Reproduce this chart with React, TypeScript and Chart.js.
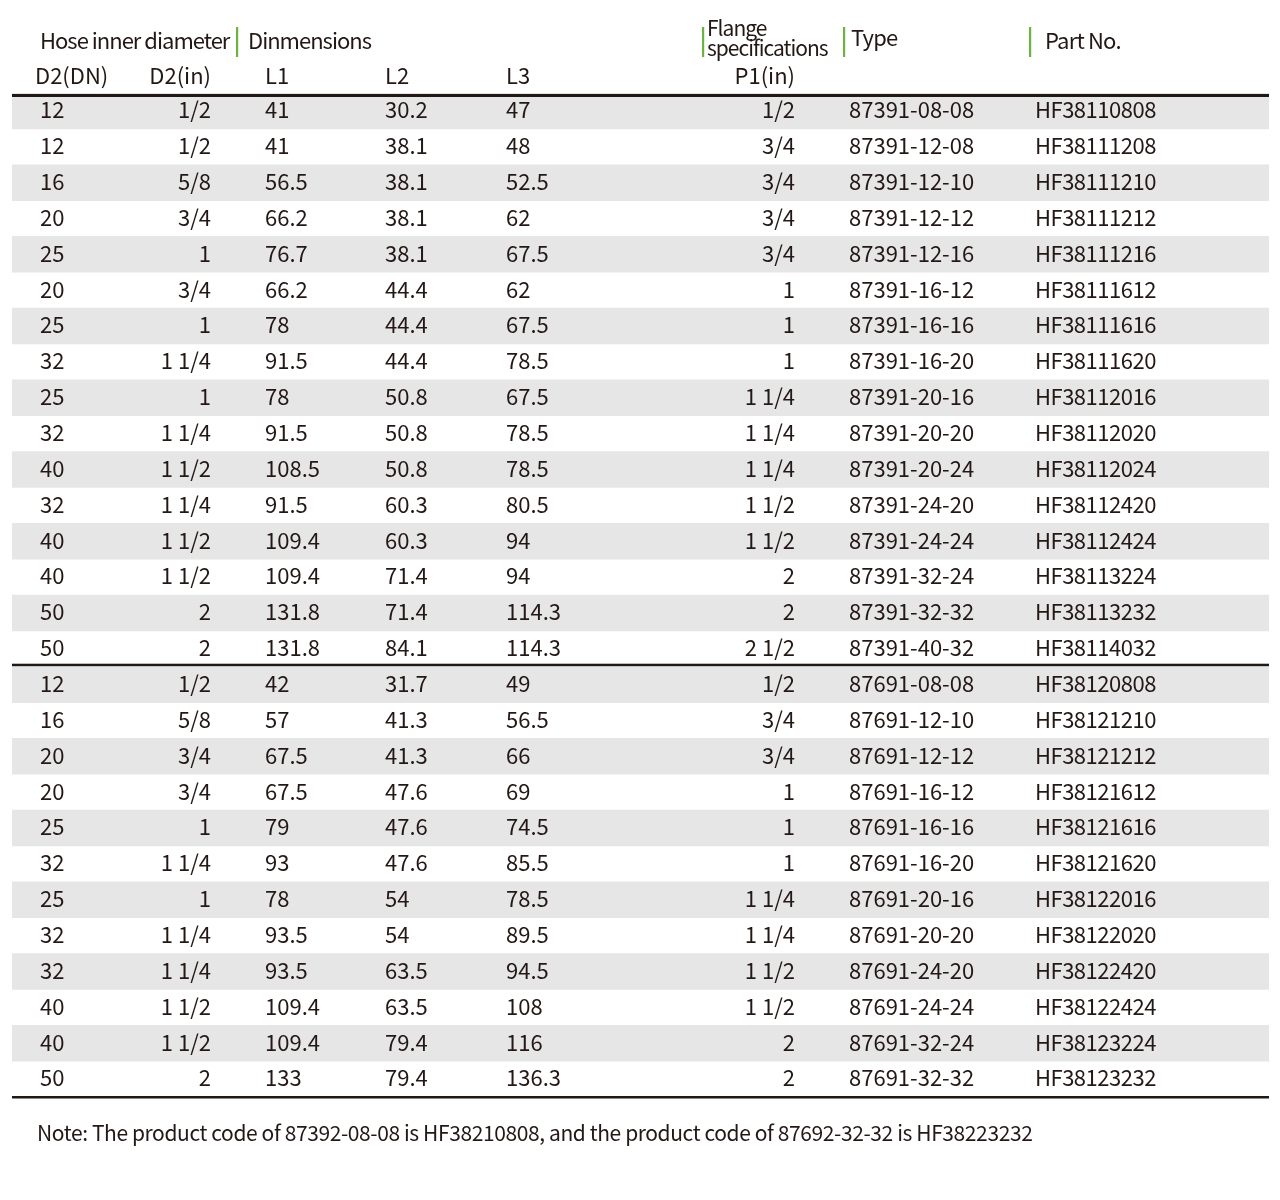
import React, { useEffect, useRef } from "react";
import { Chart, registerables } from "chart.js";

Chart.register(...registerables);

// ---------- DATA ----------
const dnValues = [12, 12, 16, 20, 25, 20, 25, 32, 25, 32, 40, 32, 40, 40, 50, 50, 12, 16, 20, 20, 25, 32, 25, 32, 32, 40, 40, 50];
const inchValues = ["1/2", "1/2", "5/8", "3/4", "1", "3/4", "1", "1 1/4", "1", "1 1/4", "1 1/2", "1 1/4", "1 1/2", "1 1/2", "2", "2",
  "1/2", "5/8", "3/4", "3/4", "1", "1 1/4", "1", "1 1/4", "1 1/4", "1 1/2", "1 1/2", "2"];
const l1Values = [41, 41, 56.5, 66.2, 76.7, 66.2, 78, 91.5, 78, 91.5, 108.5, 91.5, 109.4, 109.4, 131.8, 131.8,
  42, 57, 67.5, 67.5, 79, 93, 78, 93.5, 93.5, 109.4, 109.4, 133];
const l2Values = [30.2, 38.1, 38.1, 38.1, 38.1, 44.4, 44.4, 44.4, 50.8, 50.8, 50.8, 60.3, 60.3, 71.4, 71.4, 84.1,
  31.7, 41.3, 41.3, 47.6, 47.6, 47.6, 54, 54, 63.5, 63.5, 79.4, 79.4];
const l3Values = [47, 48, 52.5, 62, 67.5, 62, 67.5, 78.5, 67.5, 78.5, 78.5, 80.5, 94, 94, 114.3, 114.3,
  49, 56.5, 66, 69, 74.5, 85.5, 78.5, 89.5, 94.5, 108, 116, 136.3];
const p1Values = ["1/2", "3/4", "3/4", "3/4", "3/4", "1", "1", "1", "1 1/4", "1 1/4", "1 1/4", "1 1/2", "1 1/2", "2", "2", "2 1/2",
  "1/2", "3/4", "3/4", "1", "1", "1", "1 1/4", "1 1/4", "1 1/2", "1 1/2", "2", "2"];
const typeValues = ["87391-08-08", "87391-12-08", "87391-12-10", "87391-12-12", "87391-12-16", "87391-16-12", "87391-16-16", "87391-16-20",
  "87391-20-16", "87391-20-20", "87391-20-24", "87391-24-20", "87391-24-24", "87391-32-24", "87391-32-32", "87391-40-32",
  "87691-08-08", "87691-12-10", "87691-12-12", "87691-16-12", "87691-16-16", "87691-16-20", "87691-20-16", "87691-20-20",
  "87691-24-20", "87691-24-24", "87691-32-24", "87691-32-32"];
const partValues = ["HF38110808", "HF38111208", "HF38111210", "HF38111212", "HF38111216", "HF38111612", "HF38111616", "HF38111620",
  "HF38112016", "HF38112020", "HF38112024", "HF38112420", "HF38112424", "HF38113224", "HF38113232", "HF38114032",
  "HF38120808", "HF38121210", "HF38121212", "HF38121612", "HF38121616", "HF38121620", "HF38122016", "HF38122020",
  "HF38122420", "HF38122424", "HF38123224", "HF38123232"];
const sectionSizes = [16, 12];
const groupHeaders = ["Hose inner diameter", "Dinmensions", "Flange", "specifications", "Type", "Part No."];
const columnHeaders = ["D2(DN)", "D2(in)", "L1", "L2", "L3", "P1(in)"];
const noteText = "Note: The product code of 87392-08-08 is HF38210808, and the product code of 87692-32-32 is HF38223232";

// ---------- STYLE / LAYOUT ----------
const FONT = '"Noto Sans CJK SC", "Noto Sans", sans-serif';
const TEXT = "#231815";
const STRIPE = "#e6e6e6";
const GREEN = "#6db33f";
const X_MAX = 100;
const pct = (px: number) => ((px - 12) / 1257) * X_MAX; // table-relative position

const rowLabels = dnValues.map((_, i) => String(i));
const stripeData: ([number, number] | null)[] = [];
sectionSizes.forEach((n) => {
  for (let k = 0; k < n; k++) stripeData.push(k % 2 === 0 ? [0, X_MAX] : null);
});

const fmt = (v: number | string) => String(v);

const columns = [
  { values: dnValues.map(fmt), anchor: pct(40), align: "left" as CanvasTextAlign, ls: "0px" },
  { values: inchValues, anchor: pct(211), align: "right" as CanvasTextAlign, ls: "0px" },
  { values: l1Values.map(fmt), anchor: pct(265), align: "left" as CanvasTextAlign, ls: "0px" },
  { values: l2Values.map(fmt), anchor: pct(385), align: "left" as CanvasTextAlign, ls: "0px" },
  { values: l3Values.map(fmt), anchor: pct(506), align: "left" as CanvasTextAlign, ls: "0px" },
  { values: p1Values, anchor: pct(795), align: "right" as CanvasTextAlign, ls: "0px" },
  { values: typeValues, anchor: pct(849), align: "left" as CanvasTextAlign, ls: "0px" },
  { values: partValues, anchor: pct(1035), align: "left" as CanvasTextAlign, ls: "-0.5px" },
];

const tablePlugin = {
  id: "tableText",
  afterDatasetsDraw(chart: any) {
    const ctx: any = chart.ctx;
    const xs = chart.scales.x;
    const ys = chart.scales.y;
    const area = chart.chartArea;
    const X = (v: number) => xs.getPixelForValue(v);
    ctx.save();

    // rules
    ctx.fillStyle = TEXT;
    ctx.fillRect(area.left, area.top + 1, area.right - area.left, 3);
    const sepY = (ys.getPixelForValue(sectionSizes[0] - 1) + ys.getPixelForValue(sectionSizes[0])) / 2;
    ctx.fillRect(area.left, sepY - 3, area.right - area.left, 2.5);
    ctx.fillRect(area.left, area.bottom - 1, area.right - area.left, 2.5);

    // cells
    ctx.textBaseline = "middle";
    ctx.font = `22px ${FONT}`;
    for (let i = 0; i < dnValues.length; i++) {
      const y = ys.getPixelForValue(i) - 1;
      columns.forEach((c) => {
        ctx.letterSpacing = c.ls;
        ctx.textAlign = c.align;
        ctx.fillText(c.values[i], X(c.anchor), y);
      });
    }
    ctx.letterSpacing = "0px";

    // header row 1 (group headers)
    const h1 = area.top - 52;
    ctx.textAlign = "left";
    ctx.font = `22px ${FONT}`;
    ctx.letterSpacing = "-1px";
    ctx.fillText(groupHeaders[0], X(pct(40)), h1);
    ctx.fillText(groupHeaders[1], X(pct(248)), h1);
    ctx.font = `21px ${FONT}`;
    ctx.letterSpacing = "-1px";
    ctx.fillText(groupHeaders[2], X(pct(707)), area.top - 65);
    ctx.fillText(groupHeaders[3], X(pct(707)), area.top - 45);
    ctx.font = `22px ${FONT}`;
    ctx.letterSpacing = "-0.8px";
    ctx.fillText(groupHeaders[4], X(pct(851)), area.top - 55);
    ctx.fillText(groupHeaders[5], X(pct(1045)), h1);
    ctx.letterSpacing = "0px";

    ctx.fillStyle = GREEN;
    [236, 702, 843, 1029].forEach((px) => {
      ctx.fillRect(X(pct(px)), area.top - 66, 2.2, 30);
    });

    // header row 2 (column headers)
    ctx.fillStyle = TEXT;
    const h2 = area.top - 17;
    ctx.font = `22px ${FONT}`;
    ctx.textAlign = "left";
    ctx.fillText(columnHeaders[0], X(pct(35)), h2);
    ctx.textAlign = "right";
    ctx.fillText(columnHeaders[1], X(pct(211)), h2);
    ctx.textAlign = "left";
    ctx.fillText(columnHeaders[2], X(pct(265)), h2);
    ctx.fillText(columnHeaders[3], X(pct(385)), h2);
    ctx.fillText(columnHeaders[4], X(pct(506)), h2);
    ctx.textAlign = "right";
    ctx.fillText(columnHeaders[5], X(pct(795)), h2);

    // note
    ctx.textAlign = "left";
    ctx.font = `21px ${FONT}`;
    ctx.letterSpacing = "-0.4px";
    ctx.fillText(noteText, X(pct(37)), area.bottom + 36);
    ctx.letterSpacing = "0px";

    ctx.restore();
  },
};

export default function App() {
  const ref = useRef<HTMLCanvasElement | null>(null);
  useEffect(() => {
    if (!ref.current) return;
    const chart = new Chart(ref.current, {
      type: "bar",
      data: {
        labels: rowLabels,
        datasets: [
          {
            data: stripeData as any,
            backgroundColor: STRIPE,
            borderWidth: 0,
            barPercentage: 1,
            categoryPercentage: 1,
          },
        ],
      },
      options: {
        indexAxis: "y",
        responsive: false,
        animation: false,
        layout: { padding: { top: 93, bottom: 103, left: 12, right: 11 } },
        scales: {
          x: { type: "linear", min: 0, max: X_MAX, display: false },
          y: { type: "category", display: false, offset: true },
        },
        plugins: { legend: { display: false }, tooltip: { enabled: false } },
      },
      plugins: [tablePlugin],
    });
    return () => chart.destroy();
  }, []);
  return (
    <div style={{ position: "absolute", left: 0, top: 0, width: 1280, height: 1200, background: "#fff" }}>
      <canvas ref={ref} width={1280} height={1200} style={{ display: "block", width: 1280, height: 1200 }} />
    </div>
  );
}
